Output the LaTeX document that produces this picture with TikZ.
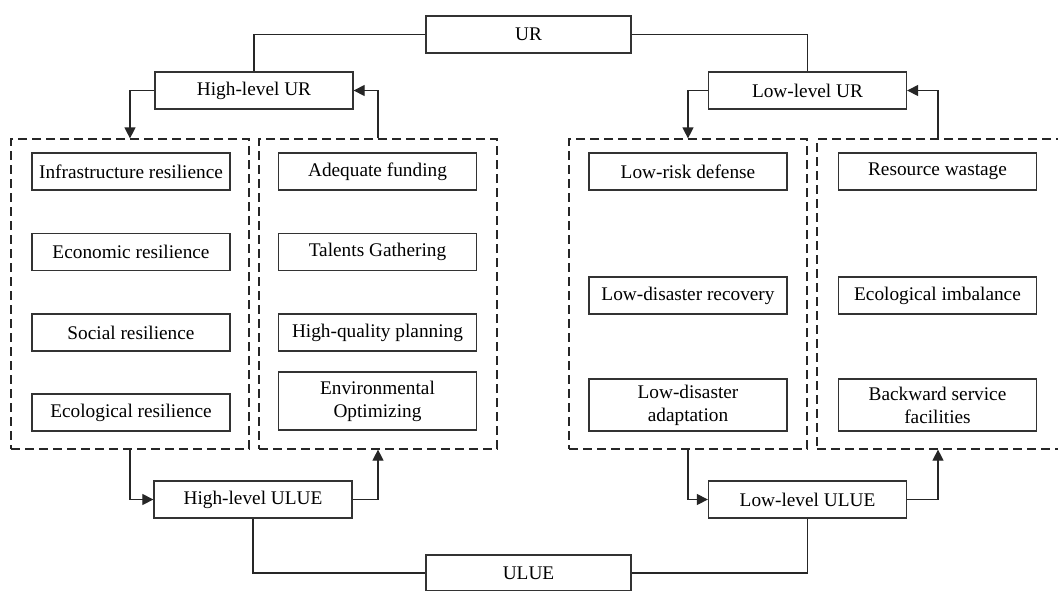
\documentclass[tikz,border=0pt]{standalone}
\usepackage{fontspec}
\setmainfont{Liberation Serif}
\usepackage{tikz}
\usetikzlibrary{arrows.meta,positioning,calc}

\begin{document}
\begin{tikzpicture}[x=1pt, y=-1pt,
  box/.style={draw=black!80, line width=1.3pt, fill=white, minimum width=198pt, minimum height=37pt, inner sep=0pt, align=center, font=\fontsize{19.3}{23}\selectfont, text=black},
  grp/.style={draw=black!85, line width=1.2pt, dash pattern=on 9pt off 5pt, minimum width=238pt, minimum height=310pt, inner sep=0pt},
  link/.style={draw=black!85, line width=1.2pt},
  >={Triangle[length=11pt,width=11pt]}]
\useasboundingbox (0,0) rectangle (1058,590);
\fill[white] (0,0) rectangle (1058,590);
\node[box, minimum width=205pt] (ur) at (528.5,34.5) {UR};
\node[box] (hur) at (254,90.5) {High-level UR};
\node[box] (lur) at (807.5,90.5) {Low-level UR};
\node[grp] (grpA) at (130,294) {};
\node[grp] (grpB) at (378,294) {};
\node[grp] (grpC) at (688,294) {};
\node[grp, minimum width=242pt] (grpD) at (938,294) {};
\foreach \n/\y/\h/\t in {a1/171.5/37/Infrastructure resilience, a2/252/37/Economic resilience, a3/332.5/37/Social resilience, a4/412.5/37/Ecological resilience} {
  \node[box, minimum height=\h pt] (\n) at (131,\y) {\t};
}
\foreach \n/\y/\h/\t in {b1/171.5/37/Adequate funding, b2/252/37/Talents Gathering, b3/332.5/37/High-quality planning, b4/401/58/{Environmental\\Optimizing}} {
  \node[box, minimum height=\h pt] (\n) at (377.5,\y) {\t};
}
\foreach \n/\y/\h/\t in {c1/171.5/37/Low-risk defense, c2/295.5/37/Low-disaster recovery, c3/405/52/{Low-disaster\\adaptation}} {
  \node[box, minimum height=\h pt] (\n) at (688,\y) {\t};
}
\foreach \n/\y/\h/\t in {d1/171.5/37/Resource wastage, d2/295.5/37/Ecological imbalance, d3/405/52/{Backward service\\facilities}} {
  \node[box, minimum height=\h pt] (\n) at (937.5,\y) {\t};
}
\node[box] (hul) at (253,499.5) {High-level ULUE};
\node[box] (lul) at (807.5,499.5) {Low-level ULUE};
\node[box, minimum width=205pt, minimum height=36pt] (ulue) at (528.5,573) {ULUE};
\draw[link] (ur.west) -| (hur.north);
\draw[link] (ur.east) -| (lur.north);
\draw[link,->] (hur.west) -| (grpA.north);
\draw[link,->] (grpB.north) |- (hur.east);
\draw[link,->] (lur.west) -| (grpC.north);
\draw[link,->] (grpD.north) |- (lur.east);
\draw[link,->] (grpA.south) |- (hul.west);
\draw[link,->] (hul.east) -| (grpB.south);
\draw[link,->] (grpC.south) |- (lul.west);
\draw[link,->] (lul.east) -| (grpD.south);
\draw[link] (hul.south) |- (ulue.west);
\draw[link] (lul.south) |- (ulue.east);
\end{tikzpicture}
\end{document}
